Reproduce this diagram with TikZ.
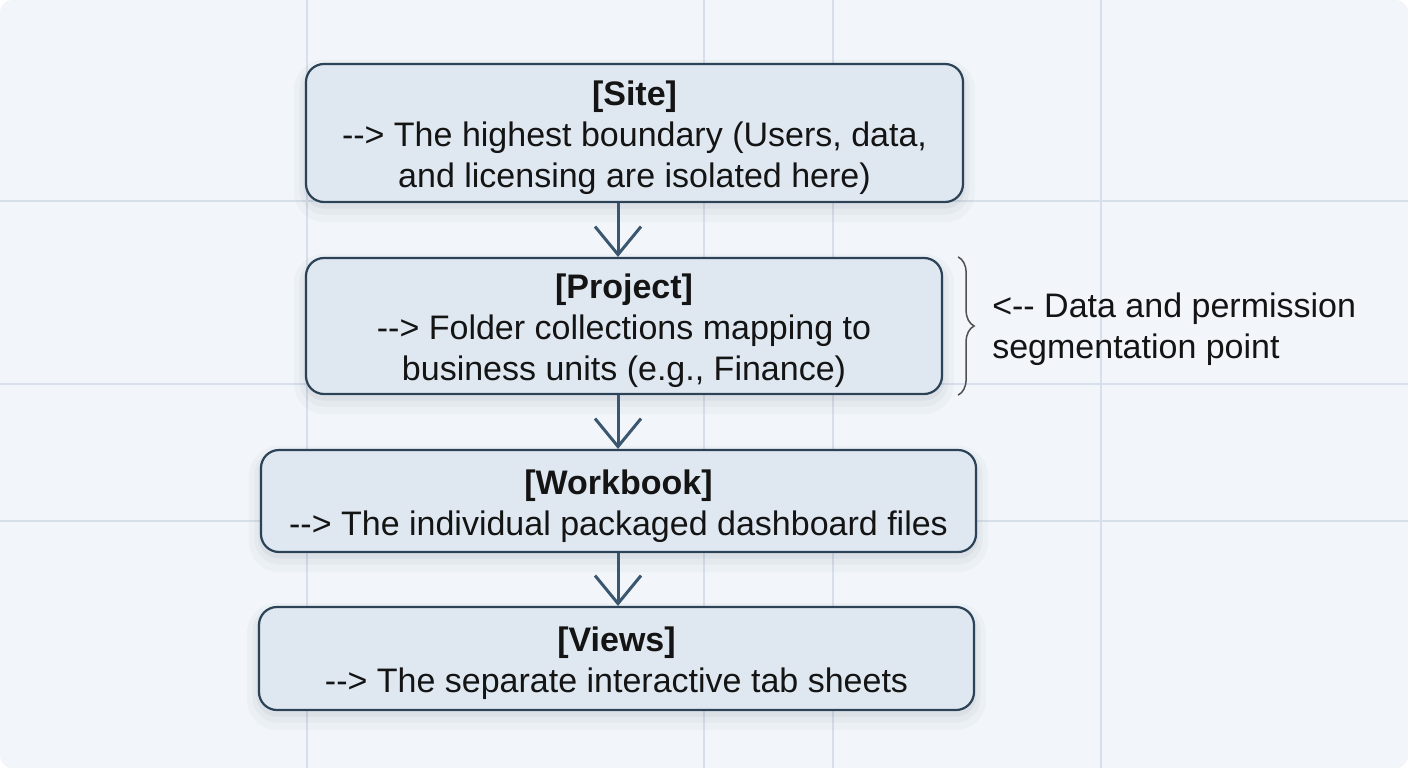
\documentclass[tikz,border=0pt]{standalone}
\usepackage{fontspec}
\setmainfont{Liberation Sans}
\usetikzlibrary{arrows.meta,positioning,decorations.pathreplacing}

\definecolor{bgpage}{HTML}{F2F6FA}
\definecolor{gridline}{HTML}{D7DFEA}
\definecolor{boxfill}{HTML}{DFE8F1}
\definecolor{boxedge}{HTML}{2B4257}
\definecolor{arrowcol}{HTML}{3B5770}
\definecolor{inktext}{HTML}{141414}

% arrows written as text, kept clear of the -- ligature
\newcommand{\toarr}{-{}-{}>}
\newcommand{\backarr}{<-{}-{}}
% pushes the text block a little down inside the boxes
\newcommand{\titlegap}{\rule{0pt}{35pt}}

\tikzset{
  layer/.style={draw=boxedge, line width=2.2pt, rounded corners=18pt,
    fill=boxfill, text=inktext, align=center, inner sep=0pt,
    font=\fontsize{34}{41}\selectfont,
    preaction={draw=boxedge, draw opacity=0.03, line width=24pt,
      transform canvas={yshift=-8pt}},
    preaction={draw=boxedge, draw opacity=0.035, line width=13pt,
      transform canvas={yshift=-6pt}},
    preaction={draw=boxedge, draw opacity=0.05, line width=5pt,
      transform canvas={yshift=-4pt}}},
  flow/.style={draw=arrowcol, line width=3pt,
    -{Straight Barb[length=28pt,width=46pt]}},
  segbrace/.style={decorate, decoration={brace, amplitude=16pt},
    draw=inktext!75, line width=1.5pt},
  notetext/.style={text=inktext, align=left, inner sep=0pt,
    font=\fontsize{34}{41}\selectfont}
}

\begin{document}
\begin{tikzpicture}[x=1pt,y=-1pt]
  \useasboundingbox (0,0) rectangle (1408,768);

  % Page and faint grid
  \fill[white] (0,0) rectangle (1408,768);
  \fill[bgpage, rounded corners=12pt] (0,0) rectangle (1408,768);
  \foreach \gx in {307,704,833,1101}{
    \draw[gridline, line width=1.2pt] (\gx,0) -- (\gx,768);
  }
  \foreach \gy in {201,384,521}{
    \draw[gridline, line width=1.2pt] (0,\gy) -- (1408,\gy);
  }

  % Hierarchy boxes
  \node[layer, minimum width=657pt, minimum height=138pt] (site) at (634.5,133)
    {\titlegap\textbf{[Site]}\\\toarr{} The highest boundary (Users, data,\\and licensing are isolated here)};
  \node[layer, minimum width=636pt, minimum height=136pt] (proj) at (624,326)
    {\titlegap\textbf{[Project]}\\\toarr{} Folder collections mapping to\\business units (e.g., Finance)};
  \node[layer, minimum width=715pt, minimum height=102pt] (wbook) at (618.5,501)
    {\titlegap\textbf{[Workbook]}\\\toarr{} The individual packaged dashboard files};
  \node[layer, minimum width=715pt, minimum height=103pt] (views) at (616.5,658.5)
    {\titlegap\textbf{[Views]}\\\toarr{} The separate interactive tab sheets};

  % Downward connectors
  \coordinate (spine) at (618,0);
  \draw[flow] (site.south -| spine) -- (proj.north -| spine);
  \draw[flow] (proj.south -| spine) -- (wbook.north -| spine);
  \draw[flow] (wbook.south -| spine) -- (views.north -| spine);

  % Segmentation note
  \draw[segbrace] ([xshift=15pt]proj.north east) -- ([xshift=15pt]proj.south east);
  \coordinate (bracetip) at ([xshift=33pt]proj.east);
  \node[notetext, right=16pt of bracetip, yshift=-3pt] (seglabel)
    {\backarr{} Data and permission\\segmentation point};

\end{tikzpicture}
\end{document}
